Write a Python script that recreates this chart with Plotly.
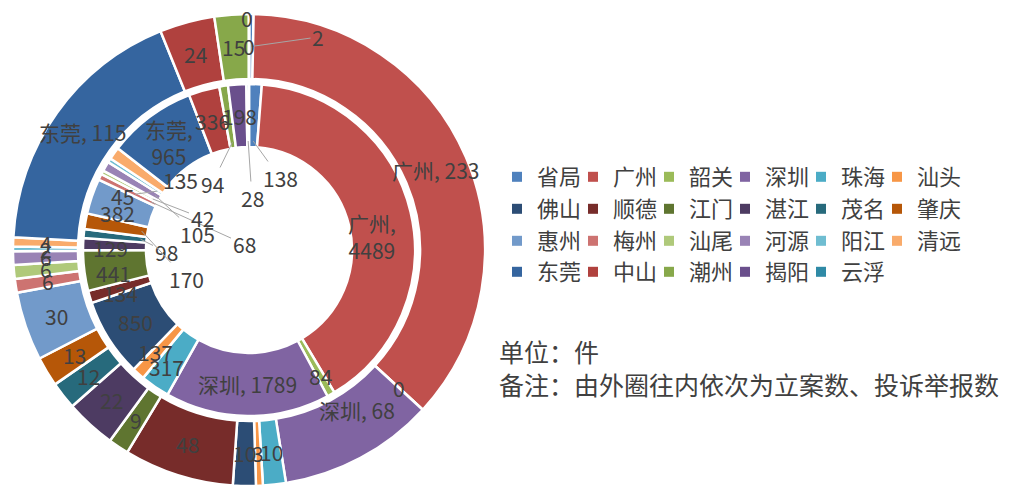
import math
import plotly.graph_objects as go

W, H = 1036, 486

categories = ["省局", "广州", "韶关", "深圳", "珠海", "汕头", "佛山", "顺德", "江门", "湛江", "茂名", "肇庆",
              "惠州", "梅州", "汕尾", "河源", "阳江", "清远", "东莞", "中山", "潮州", "揭阳", "云浮"]
# outer ring: 立案数
cases = [2, 233, 0, 68, 10, 3, 10, 48, 9, 22, 12, 13, 30, 6, 6, 6, 2, 4, 115, 24, 15, 0, 0]
# inner ring: 投诉举报数
complaints = [138, 4489, 84, 1789, 317, 137, 850, 134, 441, 129, 98, 170, 382, 68, 42, 105, 45, 135,
              965, 336, 94, 198, 28]
colors = ["#4F81BD", "#C0504D", "#9BBB59", "#8064A2", "#4BACC6", "#F79646",
          "#2C4D75", "#772C2A", "#5F7530", "#4D3B62", "#276A7C", "#B65708",
          "#729ACA", "#CD7371", "#AFC97A", "#9983B5", "#6FBDD1", "#F9AB6B",
          "#35659F", "#B0413E", "#87A84A", "#6A4F8C", "#2F8AA6"]
named_outer = {"广州", "深圳", "东莞"}
named_inner = {"广州": "<br>", "深圳": " ", "东莞": "<br>"}

outer_text = [f"{c}, {v}" if c in named_outer else str(v) for c, v in zip(categories, cases)]
inner_text = [f"{c},{named_inner[c]}{v}" if c in named_inner else str(v) for c, v in zip(categories, complaints)]

# ---- layout / style (pixels) ----
cx, cy = 249, 250
R_out, HOLE_OUT = 236, 171
R_in, HOLE_IN = 166, 103
LABEL_FONT = dict(size=21, color="#404040", family="Noto Sans CJK SC")
LEADER_COLOR = "#A6A6A6"

# labels that the original chart moved off their slices (best-fit placement), text position in px
outer_moved = {"省局": ((318, 37), True), "云浮": ((247, 18), False), "深圳": ((357, 410), False)}
inner_moved = {
    "省局": ((280, 178), True), "云浮": ((252, 198), True), "潮州": ((212, 184), True),
    "清远": ((180, 180), True), "阳江": ((122, 196), True), "惠州": ((117, 213), False),
    "汕尾": ((202, 218), True), "河源": ((197, 234), True), "梅州": ((244, 244), True),
    "茂名": ((166, 252), True), "肇庆": ((186, 279), True), "湛江": ((110, 248), False),
    "江门": ((113, 273), False), "顺德": ((120, 293), False), "汕头": ((155, 352), False),
    "珠海": ((166, 367), False), "韶关": ((320, 376), False), "广州": ((372, 236), False),
}


def dom(r):
    return dict(x=[max(0, (cx - r) / W), (cx + r) / W],
                y=[max(0, (H - cy - r) / H), min(1, (H - cy + r) / H)])


def ring_labels(values, texts, r_mid, r_anchor, moved):
    total = sum(values)
    cum = 0
    anns = []
    for cat, v, t in zip(categories, values, texts):
        ang = (cum + v / 2) / total * 2 * math.pi
        cum += v
        px = cx + r_mid * math.sin(ang)
        py = cy - r_mid * math.cos(ang)
        if cat in moved:
            (lx, ly), leader = moved[cat]
            if leader:
                axp = cx + r_anchor * math.sin(ang)
                ayp = cy - r_anchor * math.cos(ang)
                anns.append(dict(text=t, x=axp / W, y=1 - ayp / H, xref="paper", yref="paper",
                                 showarrow=True, arrowhead=0, arrowwidth=1, arrowcolor=LEADER_COLOR,
                                 standoff=0, ax=lx - axp, ay=ly - ayp, axref="pixel", ayref="pixel",
                                 font=LABEL_FONT))
                continue
            px, py = lx, ly
        anns.append(dict(text=t, x=px / W, y=1 - py / H, xref="paper", yref="paper",
                         xanchor="center", yanchor="middle", showarrow=False, font=LABEL_FONT))
    return anns


fig = go.Figure()
fig.add_trace(go.Pie(
    labels=categories, values=cases, textinfo="none",
    sort=False, direction="clockwise", rotation=0, hole=HOLE_OUT / R_out,
    domain=dom(R_out), marker=dict(colors=colors, line=dict(color="white", width=2.5)),
    hoverinfo="label+value", name="立案数", showlegend=False))
fig.add_trace(go.Pie(
    labels=categories, values=complaints, textinfo="none",
    sort=False, direction="clockwise", rotation=0, hole=HOLE_IN / R_in,
    domain=dom(R_in), marker=dict(colors=colors, line=dict(color="white", width=2.5)),
    hoverinfo="label+value", name="投诉举报数", showlegend=False))

# legend entries: 4 rows of 6
legend_names = ["legend", "legend2", "legend3", "legend4"]
for i, (cat, col) in enumerate(zip(categories, colors)):
    fig.add_trace(go.Scatter(
        x=[None], y=[None], mode="markers", name=cat,
        marker=dict(symbol="square", size=10, color=col),
        legend=legend_names[i // 6], showlegend=True, hoverinfo="skip"))
# blank spacer at the end of each row so the last column's text is not clipped
for name in legend_names:
    fig.add_trace(go.Scatter(
        x=[None], y=[None], mode="markers", name=" ",
        marker=dict(symbol="square", size=10, color="rgba(0,0,0,0)"),
        legend=name, showlegend=True, hoverinfo="skip"))

row_y = [177, 209, 241, 272]
legend_common = dict(orientation="h", xanchor="left", yanchor="middle",
                     entrywidth=31, entrywidthmode="pixels", itemwidth=30,
                     font=dict(size=22, color="#404040", family="Noto Sans CJK SC"),
                     bgcolor="rgba(0,0,0,0)", borderwidth=0)
legends = {}
for name, ry in zip(legend_names, row_y):
    legends[name] = dict(x=497 / W, y=1 - ry / H, **legend_common)

annotations = ring_labels(cases, outer_text, (HOLE_OUT + R_out) / 2, (HOLE_OUT + R_out) / 2, outer_moved)
annotations += ring_labels(complaints, inner_text, (HOLE_IN + R_in) / 2, HOLE_IN + 6, inner_moved)
NOTE_FONT = dict(size=25, color="#404040", family="Noto Sans CJK SC")
annotations += [
    dict(text="单位：件", x=497 / W, y=1 - 351 / H, xref="paper", yref="paper",
         xanchor="left", yanchor="middle", showarrow=False, font=NOTE_FONT),
    dict(text="备注：由外圈往内依次为立案数、投诉举报数", x=497 / W, y=1 - 384 / H,
         xref="paper", yref="paper", xanchor="left", yanchor="middle", showarrow=False,
         font=NOTE_FONT),
]

fig.update_layout(
    width=W, height=H, margin=dict(l=0, r=0, t=0, b=0, autoexpand=False),
    paper_bgcolor="white", plot_bgcolor="white",
    font=dict(family="Noto Sans CJK SC", color="#404040"),
    xaxis=dict(visible=False), yaxis=dict(visible=False),
    annotations=annotations,
    **legends,
)

fig.write_html("out.html", config={"displayModeBar": False},
               post_script="document.body.style.margin='0';document.body.style.overflow='hidden';")
